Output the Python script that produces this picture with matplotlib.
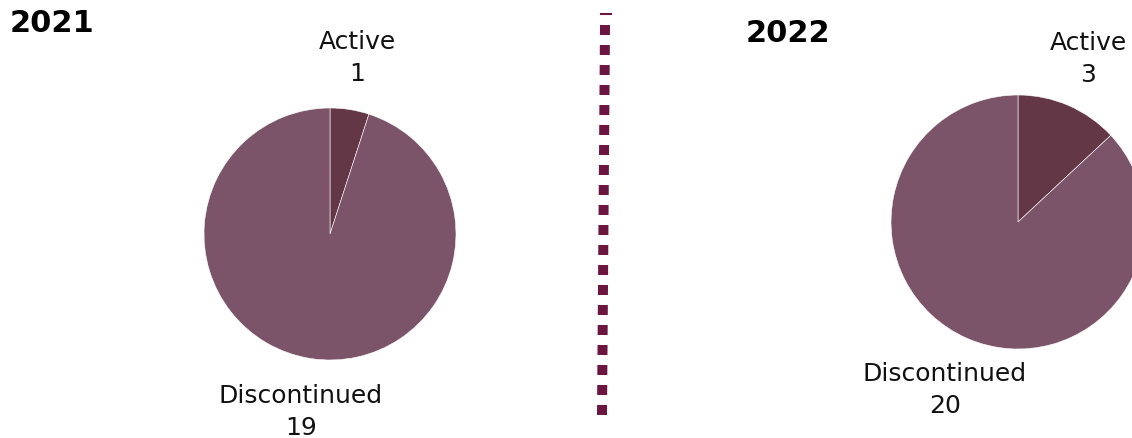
import matplotlib.pyplot as plt

years = ["2021", "2022"]
status = ["Active", "Discontinued"]
counts_2021 = [1, 19]
counts_2022 = [3, 20]

colors = ["#633745", "#7b5469"]
W, H = 1132, 438

fig = plt.figure(figsize=(W / 100, H / 100), dpi=100)
ax = fig.add_axes([0, 0, 1, 1])

# pies placed in pixel coordinates (y measured from bottom)
ax.pie(counts_2021, colors=colors, startangle=90, counterclock=False,
       center=(330, H - 234), radius=126,
       wedgeprops=dict(edgecolor="white", linewidth=0.4))
ax.pie(counts_2022, colors=colors, startangle=90, counterclock=False,
       center=(1018, H - 222), radius=127,
       wedgeprops=dict(edgecolor="white", linewidth=0.4))

ax.set_xlim(0, W)
ax.set_ylim(0, H)
ax.set_aspect("auto")
ax.axis("off")

lbl = dict(fontsize=18, ha="center", va="center", linespacing=1.4, color="#111111")

# 2021 labels
ax.text(10, H - 24, years[0], fontsize=22, fontweight="bold", ha="left", va="center")
ax.text(357, H - 58, f"{status[0]}\n{counts_2021[0]}", **lbl)
ax.text(301, H - 412, f"{status[1]}\n{counts_2021[1]}", **lbl)

# 2022 labels
ax.text(746, H - 33, years[1], fontsize=22, fontweight="bold", ha="left", va="center")
ax.text(1088, H - 59, f"{status[0]}\n{counts_2022[0]}", **lbl)
ax.text(945, H - 390, f"{status[1]}\n{counts_2022[1]}", **lbl)

# dotted divider
ax.plot([601, 611], [H - 14, H - 14], color="#6b1541", linewidth=1.5)
ax.plot([605, 602], [H - 25, H - 415], color="#6b1541", linewidth=7.2,
        linestyle=(0, (1, 1)), solid_capstyle="butt", dash_capstyle="butt")

fig.savefig("out.png", dpi=100)
